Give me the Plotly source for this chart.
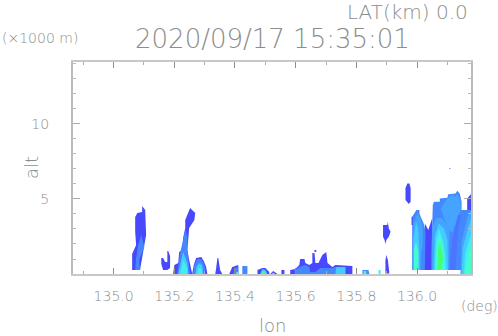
import plotly.graph_objects as go

DARK = "#4848ff"
MID = "#4488ff"
SKY = "#44a4ff"
LIGHT = "#44ccff"
CYAN = "#44eeee"
TEAL = "#44ffcc"
GREEN = "#44ff77"

# echo outlines, lon in deg, alt in km
a_dark_lon = [135.094, 135.094, 135.078, 135.071, 135.071, 135.074, 135.061, 135.061, 135.087, 135.107, 135.104]
a_dark_alt = [4.53, 4.13, 4.07, 3.8, 2.8, 1.93, 1.33, 0.27, 0.27, 2.6, 4.27]
a_mid_lon = [135.091, 135.101, 135.084, 135.087, 135.071, 135.074, 135.081]
a_mid_alt = [2.6, 1.8, 0.93, 0.27, 0.27, 1.07, 1.93]

c_dark_lon = [135.157, 135.163, 135.170, 135.177, 135.177, 135.180, 135.186, 135.186, 135.177, 135.163, 135.157]
c_dark_alt = [1.07, 1.07, 0.8, 0.8, 1.53, 1.53, 1.2, 0.4, 0.27, 0.27, 0.67]

b_dark_lon = [135.252, 135.236, 135.236, 135.229, 135.226, 135.216, 135.213, 135.200, 135.196, 135.259, 135.249, 135.243, 135.249, 135.266, 135.269]
b_dark_alt = [4.4, 3.6, 3.07, 2.4, 1.6, 1.47, 0.73, 0.6, 0.0, 0.0, 0.93, 1.6, 3.07, 3.6, 4.07]
b_mid_lon = [135.236, 135.243, 135.243, 135.246, 135.252, 135.210, 135.219, 135.229]
b_mid_alt = [2.93, 2.47, 1.6, 0.93, 0.0, 0.0, 1.4, 2.27]
b_light_lon = [135.229, 135.243, 135.246, 135.213, 135.223]
b_light_alt = [1.47, 0.73, 0.0, 0.0, 0.93]
b_cyan_lon = [135.229, 135.243, 135.243, 135.219, 135.226]
b_cyan_alt = [0.93, 0.4, 0.0, 0.0, 0.6]

d_dark_lon = [135.259, 135.264, 135.272, 135.289, 135.297, 135.305, 135.309]
d_dark_alt = [0.0, 0.6, 1.07, 1.13, 0.87, 0.47, 0.0]
d_mid_lon = [135.262, 135.266, 135.276, 135.289, 135.296, 135.302, 135.302]
d_mid_alt = [0.0, 0.6, 1.0, 0.98, 0.73, 0.4, 0.0]
d_light_lon = [135.269, 135.274, 135.284, 135.292, 135.295]
d_light_alt = [0.0, 0.53, 0.73, 0.53, 0.0]
d_cyan_lon = [135.276, 135.279, 135.289, 135.292]
d_cyan_alt = [0.0, 0.4, 0.4, 0.0]

e_dark_lon = [135.342, 135.345, 135.351, 135.358, 135.335, 135.338]
e_dark_alt = [1.07, 1.07, 0.27, 0.0, 0.0, 0.4]

f_dark_lon = [135.381, 135.391, 135.411, 135.411]
f_dark_alt = [0.0, 0.47, 0.6, 0.0]
f_mid_lon = [135.394, 135.401, 135.411, 135.411]
f_mid_alt = [0.0, 0.4, 0.47, 0.0]
f_cyan_lon = [135.404, 135.411, 135.411, 135.404]
f_cyan_alt = [0.13, 0.13, 0.0, 0.0]
g_mid_lon = [135.424, 135.424, 135.441, 135.441]
g_mid_alt = [0.0, 0.53, 0.53, 0.0]

h_dark_lon = [135.474, 135.474, 135.490, 135.500, 135.513, 135.513]
h_dark_alt = [0.0, 0.27, 0.4, 0.4, 0.13, 0.0]
h_light_lon = [135.483, 135.490, 135.500, 135.507]
h_light_alt = [0.0, 0.33, 0.27, 0.0]
h_green_lon = [135.487, 135.493, 135.497, 135.500]
h_green_alt = [0.0, 0.2, 0.2, 0.0]
i_dark_lon = [135.516, 135.526, 135.540]
i_dark_alt = [0.0, 0.2, 0.0]
i_cyan_lon = [135.521, 135.526, 135.532]
i_cyan_alt = [0.0, 0.1, 0.0]
j_dark_lon = [135.553, 135.553, 135.563, 135.563]
j_dark_alt = [0.0, 0.27, 0.27, 0.0]

k_dark_lon = [135.582, 135.582, 135.599, 135.612, 135.615, 135.629, 135.632, 135.645, 135.655, 135.655, 135.662, 135.665, 135.675, 135.688, 135.701, 135.705, 135.721, 135.731, 135.787, 135.787]
k_dark_alt = [0.0, 0.27, 0.33, 0.6, 1.0, 1.0, 0.73, 0.6, 0.73, 1.4, 1.4, 0.73, 0.73, 1.27, 1.47, 0.73, 0.47, 0.6, 0.53, 0.0]
k_mid_lon = [135.599, 135.599, 135.612, 135.632, 135.645, 135.648, 135.665, 135.681, 135.721, 135.731, 135.764, 135.764]
k_mid_alt = [0.0, 0.27, 0.47, 0.6, 0.47, 0.13, 0.13, 0.4, 0.4, 0.47, 0.47, 0.0]
k_light_lon = [135.731, 135.734, 135.764, 135.764]
k_light_alt = [0.0, 0.47, 0.47, 0.0]
k_top_lon = [135.662, 135.662, 135.668, 135.668]
k_top_alt = [1.47, 1.6, 1.6, 1.47]

l_mid_lon = [135.820, 135.820, 135.840, 135.843]
l_mid_alt = [0.0, 0.27, 0.27, 0.0]
l_cyan_lon = [135.823, 135.823, 135.833, 135.833]
l_cyan_alt = [0.0, 0.2, 0.2, 0.0]
m_cyan_lon = [135.873, 135.873, 135.880, 135.880]
m_cyan_alt = [0.0, 0.27, 0.27, 0.0]

n_dark_lon = [135.896, 135.896, 135.899, 135.904, 135.909]
n_dark_alt = [0.04, 0.93, 1.27, 0.93, 0.04]
o_dark_lon = [135.888, 135.902, 135.904, 135.907, 135.913, 135.907, 135.899, 135.896, 135.893, 135.888]
o_dark_alt = [3.27, 3.27, 3.49, 3.04, 2.82, 2.49, 2.27, 2.0, 2.27, 2.49]
p_dark_lon = [135.962, 135.968, 135.975, 135.979, 135.979, 135.973, 135.962]
p_dark_alt = [5.71, 6.04, 6.04, 5.71, 4.82, 4.67, 4.93]

# the big group at the right edge
q_mid_lon = [136.046, 136.052, 136.056, 136.075, 136.075, 136.100, 136.103, 136.127, 136.133, 136.141, 136.147, 136.147, 136.166, 136.166, 136.178, 136.178, 136.144, 136.144]
q_mid_alt = [0.26, 4.6, 4.82, 4.82, 5.04, 5.09, 5.31, 5.37, 5.55, 5.37, 4.82, 4.26, 4.26, 5.04, 5.31, 0.0, 0.0, 0.26]
q_top_lon = [136.166, 136.166, 136.178, 136.178]
q_top_alt = [4.26, 5.04, 5.31, 4.26]
q_column_lon = [136.017, 136.022, 136.026, 136.037, 136.048, 136.050, 136.048]
q_column_alt = [0.26, 2.6, 3.37, 2.93, 3.6, 3.71, 0.26]
q_tower_lon = [135.984, 135.984, 135.998, 136.008, 136.008, 136.022, 136.028, 136.026]
q_tower_alt = [0.26, 3.82, 4.26, 4.26, 4.04, 3.37, 2.82, 0.26]
q_edge_lon = [135.982, 135.982, 135.986, 135.986]
q_edge_alt = [3.26, 3.82, 3.82, 3.26]
q_tower_sky_lon = [135.986, 135.988, 136.001, 136.012, 136.019, 136.019, 136.013, 136.012]
q_tower_sky_alt = [0.26, 3.37, 4.04, 3.71, 3.04, 1.93, 1.26, 0.26]
q_tower_cyan_lon = [135.988, 135.988, 135.997, 136.004, 136.008, 136.008]
q_tower_cyan_alt = [0.26, 2.37, 3.48, 3.04, 1.49, 0.26]
q_tower_teal_lon = [135.990, 135.991, 135.997, 136.004, 136.004]
q_tower_teal_alt = [0.26, 1.71, 2.15, 1.49, 0.26]
q_upper_lon = [136.100, 136.116, 136.127, 136.133, 136.144, 136.144, 136.136, 136.116, 136.107, 136.100, 136.089, 136.078]
q_upper_alt = [5.04, 5.31, 5.15, 5.37, 4.82, 4.26, 3.93, 2.71, 2.93, 3.26, 3.71, 4.37]
q_center_sky_lon = [136.048, 136.050, 136.063, 136.083, 136.100, 136.107, 136.105]
q_center_sky_alt = [0.26, 3.04, 3.71, 3.71, 3.26, 2.93, 0.26]
q_center_light_lon = [136.054, 136.059, 136.072, 136.089, 136.100, 136.102]
q_center_light_alt = [0.26, 2.6, 3.37, 3.04, 2.26, 0.26]
q_center_cyan_lon = [136.059, 136.063, 136.072, 136.085, 136.092, 136.096]
q_center_cyan_alt = [0.26, 2.26, 3.04, 2.26, 1.49, 0.26]
q_center_teal_lon = [136.061, 136.064, 136.074, 136.085, 136.089]
q_center_teal_alt = [0.26, 1.71, 2.6, 1.71, 0.26]
q_center_green_lon = [136.067, 136.070, 136.078, 136.086, 136.081]
q_center_green_alt = [0.26, 1.71, 2.15, 1.04, 0.37]
q_strip_lon = [136.107, 136.116, 136.136, 136.147, 136.136, 136.127]
q_strip_alt = [0.26, 2.26, 3.93, 3.93, 3.04, 0.26]
q_right_lon = [136.144, 136.147, 136.166, 136.178, 136.178]
q_right_alt = [0.0, 2.15, 3.82, 4.26, 0.0]
q_right_light_lon = [136.147, 136.151, 136.171, 136.178, 136.178]
q_right_light_alt = [0.0, 1.71, 3.26, 3.71, 0.0]
q_right_cyan_lon = [136.155, 136.158, 136.173, 136.178, 136.178]
q_right_cyan_alt = [0.0, 1.26, 2.37, 2.6, 0.0]
q_right_teal_lon = [136.160, 136.160, 136.171, 136.178, 136.178]
q_right_teal_alt = [0.0, 0.37, 1.6, 1.71, 0.0]
q_dot_lon = [136.107, 136.107, 136.110, 136.110]
q_dot_alt = [7.0, 7.07, 7.07, 7.0]

x_ticks = [135.0, 135.2, 135.4, 135.6, 135.8, 136.0]
x_labels = ["135.0", "135.2", "135.4", "135.6", "135.8", "136.0"]
y_ticks = [5, 10]
y_labels = ["5", "10"]

shapes = [
    (a_dark_lon, a_dark_alt, DARK), (a_mid_lon, a_mid_alt, MID),
    (c_dark_lon, c_dark_alt, DARK),
    (b_dark_lon, b_dark_alt, DARK), (b_mid_lon, b_mid_alt, MID),
    (b_light_lon, b_light_alt, LIGHT), (b_cyan_lon, b_cyan_alt, CYAN),
    (d_dark_lon, d_dark_alt, DARK), (d_mid_lon, d_mid_alt, MID),
    (d_light_lon, d_light_alt, LIGHT), (d_cyan_lon, d_cyan_alt, CYAN),
    (e_dark_lon, e_dark_alt, DARK),
    (f_dark_lon, f_dark_alt, DARK), (f_mid_lon, f_mid_alt, MID), (f_cyan_lon, f_cyan_alt, CYAN),
    (g_mid_lon, g_mid_alt, MID),
    (h_dark_lon, h_dark_alt, DARK), (h_light_lon, h_light_alt, LIGHT), (h_green_lon, h_green_alt, GREEN),
    (i_dark_lon, i_dark_alt, DARK), (i_cyan_lon, i_cyan_alt, CYAN),
    (j_dark_lon, j_dark_alt, DARK),
    (k_dark_lon, k_dark_alt, DARK), (k_mid_lon, k_mid_alt, MID),
    (k_light_lon, k_light_alt, LIGHT), (k_top_lon, k_top_alt, DARK),
    (l_mid_lon, l_mid_alt, MID), (l_cyan_lon, l_cyan_alt, CYAN),
    (m_cyan_lon, m_cyan_alt, CYAN),
    (n_dark_lon, n_dark_alt, DARK), (o_dark_lon, o_dark_alt, DARK), (p_dark_lon, p_dark_alt, DARK),
    (q_mid_lon, q_mid_alt, MID), (q_top_lon, q_top_alt, DARK),
    (q_column_lon, q_column_alt, DARK),
    (q_tower_lon, q_tower_alt, MID), (q_edge_lon, q_edge_alt, DARK),
    (q_tower_sky_lon, q_tower_sky_alt, SKY),
    (q_tower_cyan_lon, q_tower_cyan_alt, LIGHT), (q_tower_teal_lon, q_tower_teal_alt, TEAL),
    (q_upper_lon, q_upper_alt, SKY),
    (q_center_sky_lon, q_center_sky_alt, SKY), (q_center_light_lon, q_center_light_alt, LIGHT),
    (q_center_cyan_lon, q_center_cyan_alt, CYAN),
    (q_center_teal_lon, q_center_teal_alt, TEAL), (q_center_green_lon, q_center_green_alt, GREEN),
    (q_strip_lon, q_strip_alt, "#4c74ff"),
    (q_right_lon, q_right_alt, SKY), (q_right_light_lon, q_right_light_alt, LIGHT),
    (q_right_cyan_lon, q_right_cyan_alt, CYAN), (q_right_teal_lon, q_right_teal_alt, TEAL),
    (q_dot_lon, q_dot_alt, DARK),
]

fig = go.Figure()

for lon, alt, colour in shapes:
    fig.add_trace(go.Scatter(
        x=lon, y=alt, mode="lines", fill="toself", fillcolor=colour,
        line=dict(color=colour, width=0), hoverinfo="skip",
    ))

tick_font = dict(family="DejaVu Sans", size=14, color="#8c8c8c", weight=200)
fig.update_xaxes(
    range=[134.866, 136.178], tickvals=x_ticks, ticktext=x_labels,
    ticks="inside", ticklen=6, tickwidth=1, tickcolor="#8c8c8c",
    minor=dict(tick0=134.9, dtick=0.1, ticks="inside", ticklen=3, tickcolor="#aaaaaa"),
    showgrid=False, zeroline=False, showline=True, linecolor="#c8c8c8", linewidth=2,
    mirror="allticks", tickfont=tick_font, ticklabelstandoff=8,
)
fig.update_yaxes(
    range=[0, 14.13], tickvals=y_ticks, ticktext=y_labels,
    ticks="inside", ticklen=7, tickwidth=1, tickcolor="#aaaaaa",
    minor=dict(tick0=0, dtick=1, ticks="inside", ticklen=3, tickcolor="#bbbbbb"),
    showgrid=False, zeroline=False, showline=True, linecolor="#bcbcbc", linewidth=2,
    mirror="allticks", tickfont=tick_font, ticklabelstandoff=19,
)


def label(text, px, py, size, angle=0):
    # px, py are positions in the window
    fig.add_annotation(
        text=text, xref="paper", yref="paper",
        x=(px - 73) / 398, y=(274 - py) / 212,
        xanchor="center", yanchor="middle", showarrow=False, textangle=angle,
        font=dict(family="DejaVu Sans", size=size, color="#8c8c8c", weight=200),
    )


label("LAT(km) 0.0", 407, 12, 20)
label("2020/09/17 15:35:01", 272, 39, 26)
label("(×1000 m)", 40, 38, 14)
label("(deg)", 479, 306, 14)
label("lon", 272, 325, 18)
label("alt", 31, 168, 18, angle=-90)

fig.update_layout(
    width=498, height=336, showlegend=False,
    margin=dict(l=73, r=27, t=62, b=62),
    paper_bgcolor="white", plot_bgcolor="white",
)

fig.write_html("out.html", post_script="document.body.style.margin='0';",
               config=dict(displayModeBar=False))
